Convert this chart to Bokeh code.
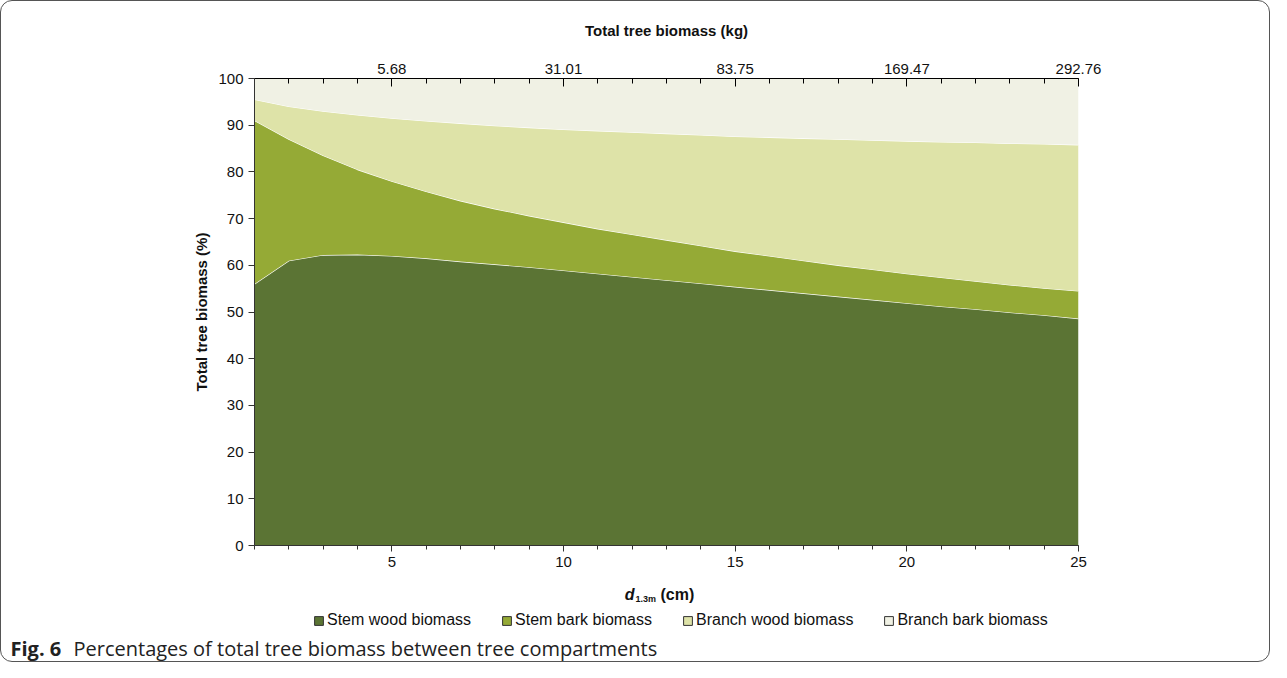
import numpy as np
from bokeh.core.properties import value
from bokeh.embed import file_html
from bokeh.layouts import column
from bokeh.models import FixedTicker, Legend, LegendItem, LinearAxis, Range1d
from bokeh.plotting import figure
from bokeh.resources import INLINE

dbh = list(range(1, 26))
# cumulative upper boundaries (%)
stem_wood_top = [56, 61, 62.2, 62.3, 62, 61.5, 60.8, 60.2, 59.6, 58.9, 58.2, 57.5, 56.8,
                 56.1, 55.4, 54.7, 54.0, 53.3, 52.6, 51.9, 51.2, 50.6, 49.9, 49.3, 48.6]
stem_bark_top = [91, 87, 83.5, 80.5, 78, 75.8, 73.8, 72.1, 70.6, 69.2, 67.8, 66.6, 65.4,
                 64.2, 63.0, 62.0, 61.0, 60.0, 59.1, 58.2, 57.4, 56.6, 55.8, 55.1, 54.5]
branch_wood_top = [95.5, 94, 93, 92.2, 91.5, 90.9, 90.4, 89.9, 89.5, 89.1, 88.8, 88.5, 88.2,
                   87.9, 87.6, 87.4, 87.2, 87.0, 86.8, 86.6, 86.4, 86.3, 86.1, 86.0, 85.8]
top_ticks = [5, 10, 15, 20, 25]
top_labels = ["5.68", "31.01", "83.75", "169.47", "292.76"]

names = ["Stem wood biomass", "Stem bark biomass", "Branch wood biomass", "Branch bark biomass"]
colors = ["#5b7434", "#95aa36", "#dee3a8", "#f0f1e4"]
FONT = "Liberation Sans"
W = 1268

p = figure(width=W, height=580, x_range=Range1d(1, 25), y_range=Range1d(0, 100),
           output_backend="svg", toolbar_location=None,
           min_border_left=253, min_border_right=191, min_border_top=77, min_border_bottom=36)
p.xgrid.visible = False
p.ygrid.visible = False
p.outline_line_color = None
p.border_fill_color = None
p.frame_align = False

lows = [np.zeros(25), np.array(stem_wood_top), np.array(stem_bark_top), np.array(branch_wood_top)]
highs = [np.array(stem_wood_top), np.array(stem_bark_top), np.array(branch_wood_top), np.full(25, 100.0)]
for lo, hi, c in zip(lows, highs, colors):
    p.varea(x=dbh, y1=lo, y2=hi, fill_color=c)
    p.line(dbh, hi, line_color="white", line_width=1.2)

for ax in (p.xaxis[0], p.yaxis[0]):
    ax.axis_line_color = "#333333"
    ax.major_tick_line_color = "#333333"
    ax.minor_tick_line_color = "#333333"
    ax.major_tick_in = 0
    ax.major_tick_out = 6
    ax.minor_tick_in = 0
    ax.major_label_text_font = FONT
    ax.major_label_text_font_size = "15px"
    ax.major_label_text_color = "#111111"
p.xaxis.ticker = FixedTicker(ticks=top_ticks, minor_ticks=dbh)
p.xaxis.minor_tick_out = 4
p.yaxis.ticker = FixedTicker(ticks=list(range(0, 101, 10)))
p.yaxis.minor_tick_line_color = None
p.yaxis.axis_label = "Total tree biomass (%)"
p.yaxis.axis_label_text_font = FONT
p.yaxis.axis_label_text_font_style = "bold"
p.yaxis.axis_label_text_font_size = "15px"
p.yaxis.axis_label_text_color = "#111111"

top = LinearAxis(ticker=FixedTicker(ticks=top_ticks, minor_ticks=dbh),
                 major_label_overrides={t: l for t, l in zip(top_ticks, top_labels)},
                 axis_label="Total tree biomass (kg)", axis_label_text_font=FONT,
                 axis_label_text_font_style="bold", axis_label_text_font_size="15px",
                 axis_label_text_color="#111111", major_label_text_color="#111111",
                 major_label_text_font=FONT, major_label_text_font_size="15px",
                 major_tick_in=8, major_tick_out=0, minor_tick_in=5, minor_tick_out=0,
                 axis_label_standoff=22)
p.add_layout(top, "above")

# lower panel: x-axis title, legend, caption (pixel coords, y down)
q = figure(width=W, height=80, x_range=Range1d(0, W), y_range=Range1d(80, 0),
           output_backend="svg", toolbar_location=None,
           min_border=0, min_border_left=0, min_border_right=0, min_border_top=0, min_border_bottom=0)
q.frame_align = False
q.axis.visible = False
q.grid.visible = False
q.outline_line_color = None
q.border_fill_color = None
q.background_fill_color = None

q.text(x=[633], y=[13], text=["d"], text_font=value(FONT), text_font_style="bold italic",
       text_font_size="16px", text_align="right", text_baseline="middle", text_color="#111111")
q.text(x=[634], y=[17], text=["1.3m"], text_font=value(FONT), text_font_style="bold",
       text_font_size="9px", text_baseline="middle", text_color="#111111")
q.text(x=[659], y=[13], text=["(cm)"], text_font=value(FONT), text_font_style="bold",
       text_font_size="16px", text_baseline="middle", text_color="#111111")

items = []
for c, n in zip(colors, names):
    r = q.rect(x=[-50], y=[-50], width=1, height=1, fill_color=c, line_color="#333333")
    items.append(LegendItem(label=n, renderers=[r]))
legend = Legend(items=items, orientation="horizontal", location=(312, 32),
                label_text_font=FONT, label_text_font_size="16px", glyph_width=11,
                glyph_height=11, spacing=30, label_standoff=3, border_line_color=None,
                background_fill_alpha=0, margin=0, padding=0, label_text_color="#111111",
                label_height=15)
q.add_layout(legend)

q.text(x=[9], y=[67], text=["Fig. 6"], text_font=value("Open Sans"), text_font_style="bold",
       text_font_size="20px", text_baseline="middle", text_color="#222222")
q.text(x=[72], y=[67], text=["Percentages of total tree biomass between tree compartments"],
       text_font=value("Open Sans"), text_font_size="20px", text_baseline="middle",
       text_color="#222222")

layout = column(p, q, spacing=0,
                styles={"border": "1px solid #555555", "border-radius": "12px"})
open("out.html", "w").write(file_html(layout, INLINE))
